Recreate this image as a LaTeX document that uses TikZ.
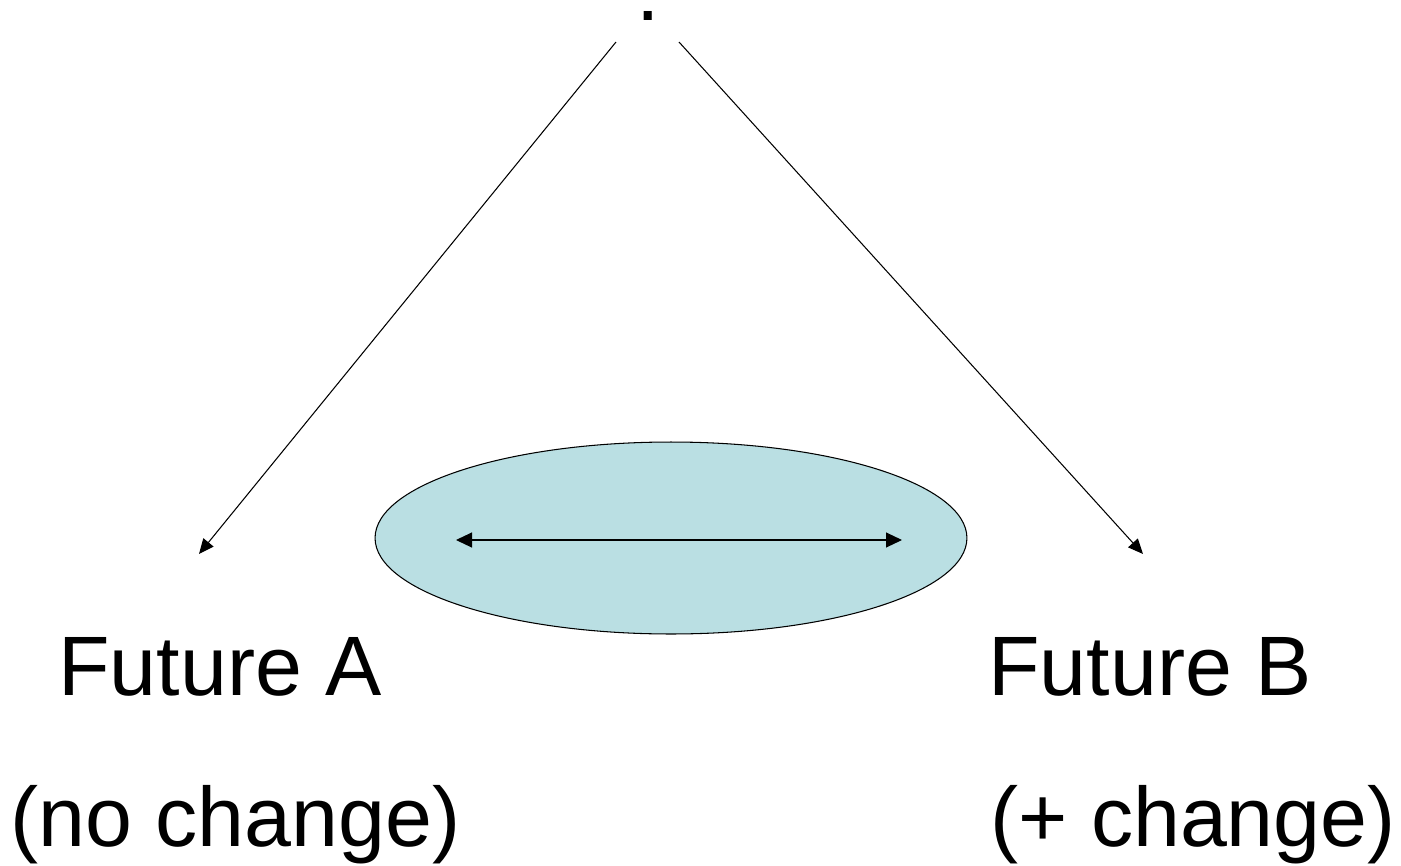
\documentclass[tikz,border=0pt]{standalone}
\usepackage{fontspec}
\setmainfont{Liberation Sans}
\usepackage{xcolor}
\usepackage{tikz}
\usetikzlibrary{arrows.meta,positioning,shapes.geometric}
\definecolor{ovalfill}{HTML}{BADFE3}

\begin{document}
\begin{tikzpicture}[
          x=0.02cm,y=-0.02cm,
          every node/.style={font=\fontsize{48}{58}\selectfont,inner sep=0pt},
          lbl/.style={anchor=base west},
          oval/.style={ellipse,draw,line width=0.6pt,fill=ovalfill,
                       minimum width=11.84cm,minimum height=3.84cm},
          arr/.style={-{Triangle[length=3mm,width=2.6mm]},line width=0.6pt},
          dbl/.style={{Triangle[length=3.2mm,width=3mm]}-{Triangle[length=3.2mm,width=3mm]},line width=0.6pt},
      ]
        \useasboundingbox (0,0) rectangle (1401,866);

        \node[lbl] (dot) at (636,20) {.};
        \coordinate (startA) at (616,42);
        \coordinate (startB) at (679,42);
        \coordinate (endA) at (199,554);
        \coordinate (endB) at (1143,554);

        \node[oval] (range) at (671,538) {};
        \coordinate (rangeL) at (456,540);
        \coordinate (rangeR) at (902,540);

        \node[lbl] (futA) at (58,695) {Future A};
        \node[lbl] (chgA) at (10,846) {(no change)};
        \node[lbl] (futB) at (988,695) {Future B};
        \node[lbl] (chgB) at (990,846) {(+ change)};

        \draw[arr] (startA) -- (endA);
        \draw[arr] (startB) -- (endB);
        \draw[dbl] (rangeL) -- (rangeR);
      \end{tikzpicture}
\end{document}
